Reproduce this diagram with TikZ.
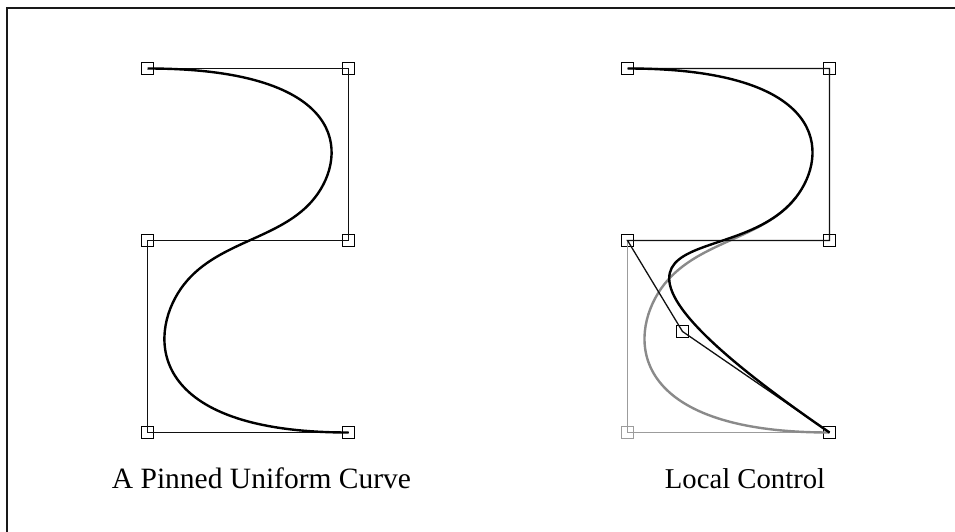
\documentclass[tikz,border=0pt]{standalone}
\usepackage{fontspec}
\setmainfont{Liberation Serif}
\usetikzlibrary{calc}
\definecolor{polyc}{HTML}{111111}
\definecolor{ghost}{HTML}{8A8A8A}
\definecolor{ghostpoly}{HTML}{9C9C9C}
\tikzset{
  ctrl/.style={draw=black, rectangle, minimum size=12pt, inner sep=0pt, line width=1.4pt},
  ctrlgray/.style={ctrl, draw=ghostpoly},
  poly/.style={draw=polyc, line width=1.3pt},
  polygray/.style={draw=ghostpoly, line width=1.5pt},
  curve/.style={draw=black, line width=2.4pt},
  curvegray/.style={draw=ghost, line width=2.4pt},
  caption/.style={anchor=base, inner sep=0pt}
}
\begin{document}
\begin{tikzpicture}[x=1pt, y=-1pt]
\useasboundingbox (0,0) rectangle (955,532);
% frame
\draw[line width=2pt, draw=black!90] (7,545) -- (7,8) -- (965,8);

% ---------- left panel ----------
\node[ctrl] (p0) at (147.5,68.5) {};
\node[ctrl] (p1) at (348.5,68.5) {};
\node[ctrl] (p2) at (348.5,240.5) {};
\node[ctrl] (p3) at (147.5,240.5) {};
\node[ctrl] (p4) at (147.5,432.5) {};
\node[ctrl] (p5) at (348.5,432.5) {};

\draw[poly] (p0.center) -- (p1.center) -- (p2.center) -- (p3.center) -- (p4.center) -- (p5.center);

\coordinate (pa) at ($0.25*(p1.center)+0.583333*(p2.center)+0.166667*(p3.center)$);
\coordinate (pb) at ($0.166667*(p2.center)+0.583333*(p3.center)+0.25*(p4.center)$);
\draw[curve] (p0.center)
  .. controls (p1.center) and ($(p1.center)!0.5!(p2.center)$) .. (pa)
  .. controls ($(p2.center)!0.333333!(p3.center)$) and ($(p2.center)!0.666667!(p3.center)$) .. (pb)
  .. controls ($(p3.center)!0.5!(p4.center)$) and (p4.center) .. (p5.center);

\node[caption, font=\fontsize{29.5}{35}\selectfont] (capl) at (261.5,488) {A Pinned Uniform Curve};

% ---------- right panel ----------
\node[ctrl] (q0) at (627.5,68.5) {};
\node[ctrl] (q1) at (829.5,68.5) {};
\node[ctrl] (q2) at (829.5,240.5) {};
\node[ctrl] (q3) at (627.5,240.5) {};
\node[ctrlgray] (q4) at (627.5,432.5) {};
\node[ctrl] (q5) at (829.5,432.5) {};
\node[ctrl] (qm) at (682.5,331.5) {};

% original (gray)
\draw[polygray] (q3.center) -- (q4.center) -- (q5.center);
\coordinate (qa) at ($0.25*(q1.center)+0.583333*(q2.center)+0.166667*(q3.center)$);
\coordinate (qb) at ($0.166667*(q2.center)+0.583333*(q3.center)+0.25*(q4.center)$);
\draw[curvegray] (qa)
  .. controls ($(q2.center)!0.333333!(q3.center)$) and ($(q2.center)!0.666667!(q3.center)$) .. (qb)
  .. controls ($(q3.center)!0.5!(q4.center)$) and (q4.center) .. (q5.center);

% modified (black)
\draw[poly] (q0.center) -- (q1.center) -- (q2.center) -- (q3.center) -- (qm.center) -- (q5.center);
\coordinate (qc) at ($0.166667*(q2.center)+0.583333*(q3.center)+0.25*(qm.center)$);
\draw[curve] (q0.center)
  .. controls (q1.center) and ($(q1.center)!0.5!(q2.center)$) .. (qa)
  .. controls ($(q2.center)!0.333333!(q3.center)$) and ($(q2.center)!0.666667!(q3.center)$) .. (qc)
  .. controls ($(q3.center)!0.5!(qm.center)$) and (qm.center) .. (q5.center);

\node[caption, font=\fontsize{28.7}{34}\selectfont] (capr) at (745,488) {Local Control};
\end{tikzpicture}
\end{document}
